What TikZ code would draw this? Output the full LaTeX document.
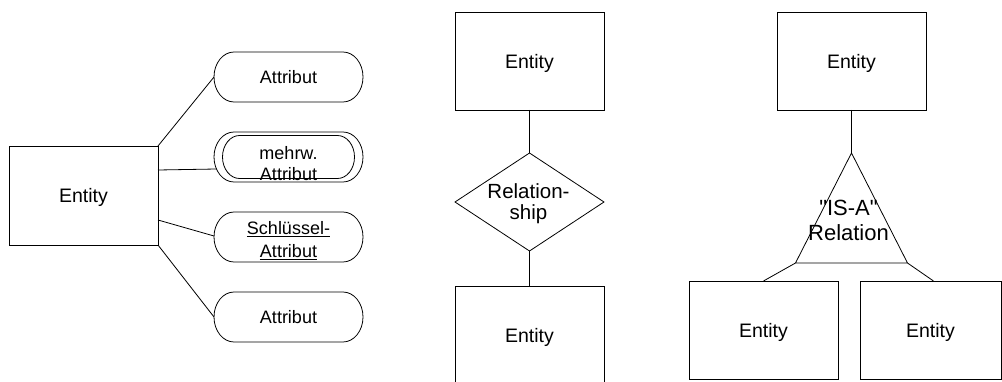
\documentclass[tikz,border=0pt]{standalone}
\usepackage{fontspec}
\setmainfont{Liberation Sans}
\usetikzlibrary{calc,shapes.geometric}

% stadium outline around a named node: half width, end radius x, end radius y
\newcommand\stadium[4]{%
  \draw ($(#1)+(-#2+#3,#4)$) -- ($(#1)+(#2-#3,#4)$)
    arc[start angle=90,end angle=-90,x radius=#3,y radius=#4]
    -- ($(#1)+(-#2+#3,-#4)$)
    arc[start angle=270,end angle=90,x radius=#3,y radius=#4] -- cycle;}

\begin{document}
\begin{tikzpicture}[x=1pt,y=1pt,line width=0.8pt,
  every node/.style={inner sep=0pt,outer sep=0pt},
  ftent/.style={font=\fontsize{19.5}{22}\selectfont},
  ftattr/.style={font=\fontsize{18}{21}\selectfont},
  entity/.style={draw,ftent,minimum width=149,minimum height=98,text depth=0pt},
  attr/.style={minimum width=149,minimum height=50},
  lbl/.style={align=center}]
\useasboundingbox (0,0) rectangle (1002,381);
\clip (0,0) rectangle (1002,381);

% --- entity with its attributes ---
\node[entity,minimum height=99] (e) at (83.5,185.5) {Entity};
\node[attr] (a1) at (288.5,304) {};
\node[attr] (a2) at (288.5,224) {};
\node[attr] (a3) at (288.5,144) {};
\node[attr] (a4) at (288.5,64) {};
\stadium{a1}{74.5}{20}{25}
\stadium{a2}{74.5}{20}{25}
\stadium{a2}{66}{17}{21.5}
\stadium{a3}{74.5}{20}{25}
\stadium{a4}{74.5}{20}{25}
\node[lbl,ftattr] (t1) at (a1) {Attribut};
\node[lbl,ftattr] (t2) at (288.5,217) {mehrw.\\Attribut};
\node[lbl,ftattr] (t3) at (288.5,140.5) {\underline{Schlüssel-}\\[2pt]\underline{Attribut}};
\node[lbl,ftattr] (t4) at (a4) {Attribut};

\draw (e.north east) -- (a1.west);
\draw ([yshift=25.5]e.east) -- ([xshift=2.5,yshift=-12]a2.west);
\draw ([yshift=-24.5]e.east) -- ([yshift=1]a3.west);
\draw (e.south east) -- (a4.west);

% --- relationship between two entities ---
\node[entity] (m1) at (529.5,320) {Entity};
\node[diamond,draw,minimum width=149,minimum height=98,aspect=1.52] (rel) at (529.5,179) {};
\node[lbl,font=\fontsize{20.5}{21}\selectfont] (relt) at (528.5,177) {Relation-\\ship};
\node[entity] (m2) at (529.5,46) {Entity};
\draw (m1.south) -- (rel.north);
\draw (rel.south) -- (m2.north);

% --- generalisation ---
\node[entity] (r1) at (851.5,320) {Entity};
\coordinate (tip) at (851.5,228);
\coordinate (bl) at (795.5,118);
\coordinate (br) at (907.5,118);
\draw (tip) -- (bl) -- (br) -- cycle;
\node[lbl,font=\fontsize{22}{25}\selectfont] (isa) at (848.5,160.5) {\textquotedbl IS-A\textquotedbl\\Relation};
\node[entity] (r2) at (763.5,51) {Entity};
\node[entity,minimum width=141] (r3) at (930.5,51) {Entity};
\draw (r1.south) -- (tip);
\draw (bl) -- (r2.north);
\draw (br) -- ([xshift=3]r3.north);
\end{tikzpicture}
\end{document}
